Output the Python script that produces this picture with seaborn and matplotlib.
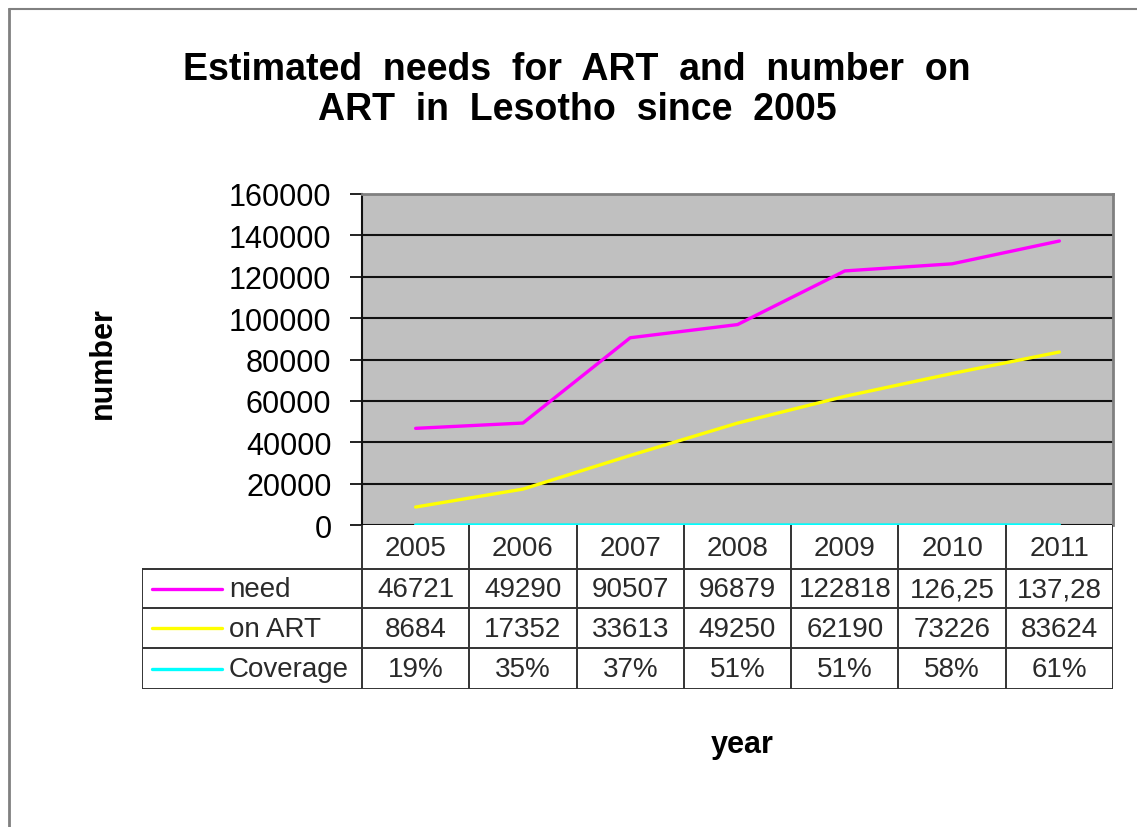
import matplotlib
matplotlib.use("Agg")
import matplotlib.pyplot as plt
import seaborn as sns
import numpy as np
from matplotlib.lines import Line2D

sns.set_theme(style="white")
plt.rcParams['font.family'] = ['Liberation Sans', 'DejaVu Sans']

years = ["2005", "2006", "2007", "2008", "2009", "2010", "2011"]
need = [46721, 49290, 90507, 96879, 122818, 126250, 137280]
on_art = [8684, 17352, 33613, 49250, 62190, 73226, 83624]
coverage = [0.19, 0.35, 0.37, 0.51, 0.51, 0.58, 0.61]
need_labels = ["46721", "49290", "90507", "96879", "122818", "126,25", "137,28"]
on_art_labels = ["8684", "17352", "33613", "49250", "62190", "73226", "83624"]
coverage_labels = ["19%", "35%", "37%", "51%", "51%", "58%", "61%"]
series_names = ["need", "on ART", "Coverage"]
series_colors = ["#FF00FF", "#FFFF00", "#00FFFF"]
yticks = [0, 20000, 40000, 60000, 80000, 100000, 120000, 140000, 160000]

W, H = 1137, 828
fig = plt.figure(figsize=(W / 100, H / 100), dpi=100)
fig.patch.set_facecolor("white")

def rect(x0, y0, x1, y1):
    return [x0 / W, 1 - y1 / H, (x1 - x0) / W, (y1 - y0) / H]

# main plot
ax = fig.add_axes(rect(362, 195, 1113, 526))
ax.set_facecolor("#C0C0C0")
pos = np.arange(len(years))
for vals, col in zip([need, on_art, coverage], series_colors):
    sns.lineplot(x=pos, y=vals, color=col, linewidth=2.4, ax=ax, zorder=3)
ax.set_xlim(-0.5, len(years) - 0.5)
ax.set_ylim(0, 160000)
ax.set_yticks(yticks)
ax.set_yticklabels([str(v) for v in yticks], fontsize=22, color="black")
ax.set_xticks([])
ax.grid(False)
for v in yticks[1:-1]:
    ax.axhline(v, color="#111111", linewidth=1.5, zorder=1)
ax.axhline(0, color="#111111", linewidth=1.5, zorder=1)
ax.tick_params(axis="y", which="major", left=True, length=9, width=1.3,
               color="#111111", pad=13, direction="out")
for s in ["top", "right"]:
    ax.spines[s].set_color("#808080")
    ax.spines[s].set_linewidth(2)
ax.spines["left"].set_color("#111111")
ax.spines["left"].set_linewidth(1.5)
ax.spines["bottom"].set_visible(False)

# table
tx0, tx1 = 142, 1113
ty0, ty1 = 526, 690
tab = fig.add_axes(rect(tx0, ty0, tx1, ty1))
tab.set_xlim(tx0, tx1)
tab.set_ylim(ty1, ty0)
tab.axis("off")
colx0 = 362
colw = (tx1 - colx0) / len(years)
row_edges = [526, 570, 609, 649, 690]
lc = "#333333"
lw = 1.4
for i in range(len(years) + 1):
    x = colx0 + i * colw
    tab.plot([x, x], [row_edges[0], row_edges[-1]], color=lc, lw=lw, solid_capstyle="butt")
tab.plot([tx0, tx0], [row_edges[1], row_edges[-1]], color=lc, lw=lw)
for y in row_edges[1:]:
    tab.plot([tx0, tx1], [y, y], color=lc, lw=lw)

rows = [need_labels, on_art_labels, coverage_labels]
tc = "#2a2a2a"
fs_tab = 20
for i, yr in enumerate(years):
    cx = colx0 + (i + 0.5) * colw
    tab.text(cx, (row_edges[0] + row_edges[1]) / 2 + 1, yr, ha="center", va="center",
             fontsize=fs_tab, color=tc)
    for r, labels in enumerate(rows):
        cy = (row_edges[r + 1] + row_edges[r + 2]) / 2 + 1
        tab.text(cx, cy, labels[i], ha="center", va="center", fontsize=fs_tab, color=tc)
for r, (name, col) in enumerate(zip(series_names, series_colors)):
    cy = (row_edges[r + 1] + row_edges[r + 2]) / 2
    tab.plot([152, 222], [cy, cy], color=col, lw=2.4)
    tab.text(229, cy + 1, name, ha="left", va="center", fontsize=fs_tab, color=tc)

# titles
fig.text(577 / W, 1 - 90 / H,
         "Estimated  needs  for  ART  and  number  on\nART  in  Lesotho  since  2005",
         ha="center", va="center", fontsize=27, fontweight="bold", linespacing=1.17,
         color="black")
fig.text(103 / W, 1 - 363 / H, "number", rotation=90, ha="center", va="center",
         fontsize=22, fontweight="bold", color="black")
fig.text(742 / W, 1 - 745 / H, "year", ha="center", va="center",
         fontsize=22, fontweight="bold", color="black")

# outer border
fig.add_artist(Line2D([9 / W, 9 / W], [0, 1 - 10 / H], color="#808080", lw=2,
                      transform=fig.transFigure))
fig.add_artist(Line2D([9 / W, 1], [1 - 10 / H, 1 - 10 / H], color="#808080", lw=1.5,
                      transform=fig.transFigure))

fig.savefig("out.png", dpi=100)
